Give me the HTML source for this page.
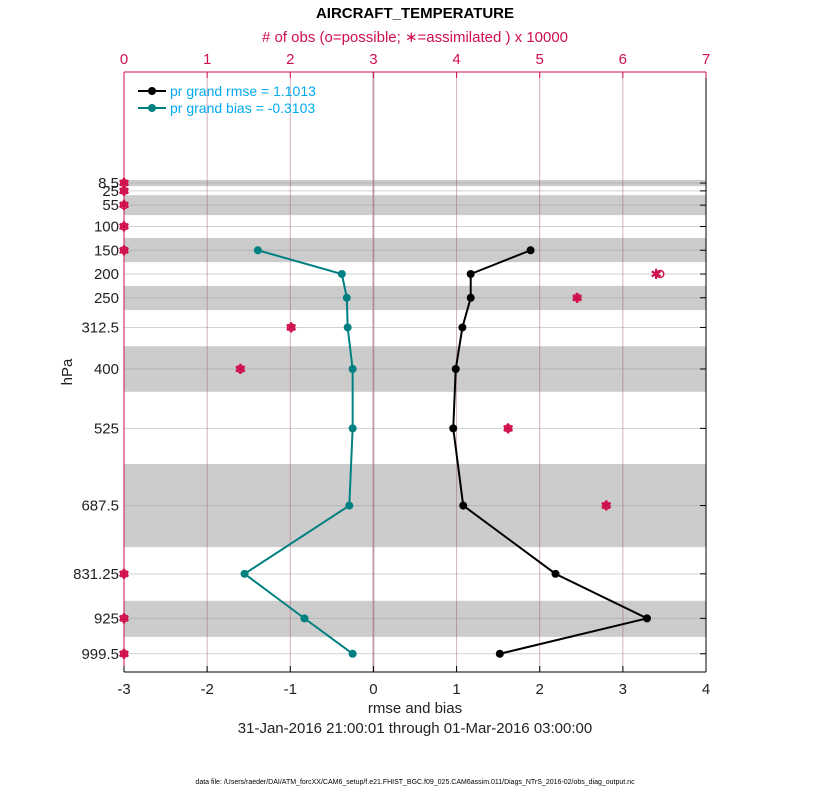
<!DOCTYPE html>
<html><head><meta charset="utf-8"><style>
body{margin:0;background:#fff;font-family:"Liberation Sans",Arial,sans-serif}
</style></head><body>
<svg id="c" width="830" height="800" xmlns="http://www.w3.org/2000/svg" font-family="Liberation Sans, Arial, sans-serif"></svg>
<script>
const levels=[8.5,25,55,100,150,200,250,312.5,400,525,687.5,831.25,925,999.5];
const levelLabels=["8.5","25","55","100","150","200","250","312.5","400","525","687.5","831.25","925","999.5"];
const rmseLevels=[150,200,250,312.5,400,525,687.5,831.25,925,999.5];
const rmse=[1.89,1.17,1.17,1.07,0.99,0.96,1.08,2.19,3.29,1.52];
const bias=[-1.39,-0.38,-0.32,-0.31,-0.25,-0.25,-0.29,-1.55,-0.83,-0.25];
const obsCount=[0,0,0,0,0,6.40,5.45,2.01,1.40,4.62,5.80,0,0,0];
const obsPossible=[0,0,0,0,0,6.45,5.45,2.01,1.40,4.62,5.80,0,0,0];
const bands=[[2,15],[34,76],[124,175],[225,276],[352,448],[600,775],[888,964]];
const bottomTicks=[-3,-2,-1,0,1,2,3,4];
const topTicks=[0,1,2,3,4,5,6,7];

const svg=document.getElementById('c');
const NS='http://www.w3.org/2000/svg';
const L=124,R=706,T=72,B=672;
const xb=v=>L+(v+3)*(R-L)/7;
const xt=v=>L+v*(R-L)/7;
const yp=p=>179+0.475*p;
function mk(tag,attrs,parent){const e=document.createElementNS(NS,tag);for(const k in attrs)e.setAttribute(k,attrs[k]);(parent||svg).appendChild(e);return e;}
function txt(s,attrs){const e=mk('text',attrs);e.textContent=s;return e;}

bands.forEach(b=>{const r=mk('rect',{x:L,y:yp(b[0]),width:R-L,height:yp(b[1])-yp(b[0]),fill:'#cccccc'});

});
levels.forEach(p=>{const l=mk('line',{x1:L,x2:R,y1:yp(p),y2:yp(p),stroke:'#999',"stroke-opacity":0.45,"stroke-width":1});

});
topTicks.slice(1,7).forEach(v=>{const l=mk('line',{x1:xt(v),x2:xt(v),y1:T,y2:B,stroke:'#a0506a',"stroke-opacity":0.45,"stroke-width":1});

});
const zl=mk('line',{x1:xb(0),x2:xb(0),y1:T,y2:B,stroke:'#b08090',"stroke-width":2,"stroke-opacity":0.6});



mk('line',{x1:L,x2:R,y1:T,y2:T,stroke:'#d0104c'});
mk('line',{x1:L,x2:L,y1:T,y2:B,stroke:'#d0104c'});
mk('line',{x1:L,x2:R,y1:B,y2:B,stroke:'#000'});
mk('line',{x1:R,x2:R,y1:T,y2:B,stroke:'#000'});
bottomTicks.forEach(v=>{mk('line',{x1:xb(v),x2:xb(v),y1:B,y2:B-6,stroke:'#000'});
const t=txt(String(v),{x:xb(v),y:B+22,"font-size":15,"text-anchor":"middle",fill:'#222'});

});
topTicks.forEach(v=>{mk('line',{x1:xt(v),x2:xt(v),y1:T,y2:T+6,stroke:'#d0104c'});
const t=txt(String(v),{x:xt(v),y:T-8,"font-size":15,"text-anchor":"middle",fill:'#d0104c'});

});
levels.forEach((p,i)=>{mk('line',{x1:R,x2:R-6,y1:yp(p),y2:yp(p),stroke:'#000'});
const t=txt(levelLabels[i],{x:L-5,y:yp(p)+5,"font-size":15,"text-anchor":"end",fill:'#222'});

});

function series(vals,color,name){
 const pts=vals.map((v,i)=>xb(v)+','+yp(rmseLevels[i])).join(' ');
 const pl=mk('polyline',{points:pts,fill:'none',stroke:color,"stroke-width":2});
 
 
 vals.forEach((v,i)=>{const c=mk('circle',{cx:xb(v),cy:yp(rmseLevels[i]),r:4,fill:color});
 
 });
}
series(rmse,'#000','rmse');
series(bias,'#008080','bias');
obsPossible.forEach((v,i)=>{const c=mk('circle',{cx:xt(v),cy:yp(levels[i]),r:3.5,fill:'none',stroke:'#d0104c',"stroke-width":1.5});

});
obsCount.forEach((v,i)=>{const t=txt('\u2731',{x:xt(v),y:yp(levels[i])+5,"font-size":14,"text-anchor":"middle",fill:'#d0104c'});

});

mk('line',{x1:138,x2:166,y1:91,y2:91,stroke:'#000',"stroke-width":2});mk('circle',{cx:152,cy:91,r:4,fill:'#000'});
mk('line',{x1:138,x2:166,y1:108,y2:108,stroke:'#008080',"stroke-width":2});mk('circle',{cx:152,cy:108,r:4,fill:'#008080'});
let t=txt('pr grand rmse = 1.1013',{x:170,y:96,"font-size":14,fill:'#00aaee'});


t=txt('pr grand bias = -0.3103',{x:170,y:113,"font-size":14,fill:'#00aaee'});



t=txt('AIRCRAFT_TEMPERATURE',{x:415,y:18,"font-size":15,"font-weight":"bold","text-anchor":"middle",fill:'#000'});


t=txt('# of obs (o=possible; \u2217=assimilated ) x 10000',{x:415,y:42,"font-size":15,"text-anchor":"middle",fill:'#d0104c'});


t=txt('rmse and bias',{x:415,y:713,"font-size":15,"text-anchor":"middle",fill:'#222'});


t=txt('31-Jan-2016 21:00:01 through 01-Mar-2016 03:00:00',{x:415,y:733,"font-size":15,"text-anchor":"middle",fill:'#222'});


t=txt('hPa',{x:0,y:0,"font-size":15,"text-anchor":"middle",fill:'#222',transform:'translate(72,372) rotate(-90)'});


t=txt('data file: /Users/raeder/DAI/ATM_forcXX/CAM6_setup/f.e21.FHIST_BGC.f09_025.CAM6assim.011/Diags_NTrS_2016-02/obs_diag_output.nc',{x:415,y:784,"font-size":7,"text-anchor":"middle",fill:'#000'});


</script>
</body></html>
